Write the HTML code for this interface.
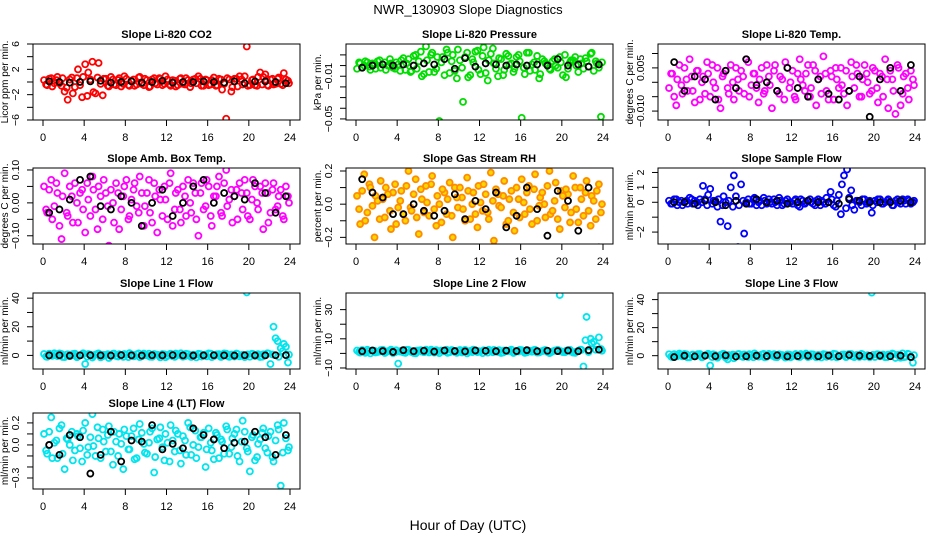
<!DOCTYPE html>
<html><head><meta charset="utf-8"><title>NWR_130903 Slope Diagnostics</title>
<style>
html,body{margin:0;padding:0;background:#fff;}
svg{display:block;font-family:"Liberation Sans",sans-serif;}
</style></head>
<body>
<svg id="chart" width="936" height="540" viewBox="0 0 936 540">
<rect x="0" y="0" width="936" height="540" fill="#fff"/>
<text x="468" y="14" text-anchor="middle" font-size="13">NWR_130903  Slope Diagnostics</text>
<text x="468" y="530" text-anchor="middle" font-size="14">Hour of Day (UTC)</text>
</svg>
<script>
const hoursC = [0.1,0.4,0.8,1.1,1.4,1.8,2.1,2.4,2.8,3.1,3.4,3.8,4.1,4.4,4.8,5.1,5.4,5.8,6.1,6.4,6.8,7.1,7.4,7.8,8.1,8.4,8.8,9.1,9.4,9.8,10.1,10.4,10.8,11.1,11.4,11.8,12.1,12.4,12.8,13.1,13.4,13.8,14.1,14.4,14.8,15.1,15.4,15.8,16.1,16.4,16.8,17.1,17.4,17.8,18.1,18.4,18.8,19.1,19.4,19.8,20.1,20.4,20.8,21.1,21.4,21.8,22.1,22.4,22.8,23.1,23.4,23.8];
const hoursC2 = [0.3,0.6,0.9,1.3,1.6,1.9,2.3,2.6,2.9,3.3,3.6,3.9,4.3,4.6,4.9,5.3,5.6,5.9,6.3,6.6,6.9,7.3,7.6,7.9,8.3,8.6,8.9,9.3,9.6,9.9,10.3,10.6,10.9,11.3,11.6,11.9,12.3,12.6,12.9,13.3,13.6,13.9,14.3,14.6,14.9,15.3,15.6,15.9,16.3,16.6,16.9,17.3,17.6,17.9,18.3,18.6,18.9,19.3,19.6,19.9,20.3,20.6,20.9,21.3,21.6,21.9,22.3,22.6,22.9,23.3,23.6,23.9];
const hoursK = [0.6,1.6,2.6,3.6,4.6,5.6,6.6,7.6,8.6,9.6,10.6,11.6,12.6,13.6,14.6,15.6,16.6,17.6,18.6,19.6,20.6,21.6,22.6,23.6];
const xTicks = [0,4,8,12,16,20,24];

const co2Vals = [0.3,-0.5,0.6,-0.2,0.8,-0.6,-1.5,-2.8,0.7,-0.8,2.0,-2.4,2.8,1.5,3.2,-1.8,3.0,-2.1,0.5,-0.7,0.4,-0.5,0.6,-0.3,0.5,-0.6,0.4,-0.4,0.8,-0.5,0.3,-0.7,0.6,-0.4,0.5,-0.3,0.4,-0.6,0.2,-0.5,0.6,-0.4,0.3,-0.2,0.5,0.9,-0.6,0.4,-0.5,0.3,-0.6,0.5,-1.2,-5.8,0.4,-0.8,0.5,0.9,-0.4,5.6,-0.5,0.4,-0.6,1.5,0.8,-0.5,0.4,-0.4,0.5,-0.3,1.4,0.2];
const co2Vals2 = [-0.4,0.5,-0.7,0.3,-0.2,0.6,-0.9,0.4,-1.8,0.6,-0.5,0.8,-2.2,0.4,-1.6,0.7,-0.3,0.5,-0.6,0.8,-0.4,0.3,-0.7,0.9,-0.5,0.2,-0.6,0.7,-0.3,0.5,-0.8,0.4,-0.2,0.6,-0.5,0.9,-0.4,0.3,-0.7,0.5,-0.3,0.6,-0.8,0.4,-0.2,0.5,-0.6,0.3,-0.4,0.7,-0.5,0.4,-0.3,0.6,-1.5,0.5,-0.7,0.4,0.9,-0.6,0.3,-0.5,0.8,-0.4,1.2,-0.6,0.5,-0.3,0.7,-0.5,0.4,-0.2];
const co2Mean = [0.1,0.0,-0.1,0.0,0.1,0.2,-0.1,0.0,0.1,-0.1,0.0,0.2,-0.1,0.0,0.0,0.1,0.0,-0.1,0.1,-0.2,0.1,0.1,0.0,-0.2];

const presVals = [-0.003,0.002,0.000,0.003,-0.004,0.001,0.004,-0.002,0.003,0.000,0.002,-0.003,0.001,0.005,-0.004,0.006,-0.005,0.010,0.004,-0.010,0.018,-0.006,0.012,-0.003,-0.052,0.008,0.015,-0.007,0.010,-0.012,0.005,-0.034,0.012,-0.009,0.003,0.014,-0.008,0.017,-0.014,0.011,0.002,-0.010,0.006,-0.004,0.009,0.002,-0.003,0.010,-0.049,-0.008,0.012,0.001,-0.004,-0.012,0.006,0.002,-0.003,0.004,0.000,0.008,-0.009,-0.011,0.003,0.005,0.000,0.006,-0.003,0.004,0.011,-0.005,0.002,-0.048];
const presVals2 = [0.003,-0.002,0.004,-0.001,0.002,-0.003,0.005,0.001,-0.004,0.006,-0.002,0.003,-0.005,0.007,0.002,-0.006,0.009,-0.003,0.013,-0.008,0.005,0.010,-0.006,0.008,0.003,-0.009,0.012,0.004,-0.005,0.015,-0.002,0.008,-0.011,0.006,0.013,-0.004,0.009,-0.007,0.005,0.016,-0.003,0.007,-0.009,0.011,0.001,-0.006,0.008,0.004,-0.002,0.012,-0.005,0.003,0.009,-0.008,0.004,0.001,-0.004,0.006,-0.002,0.003,0.010,-0.003,0.005,0.008,-0.006,0.002,0.007,-0.001,0.012,0.004,-0.002,0.003];
const presMean = [-0.002,0.000,0.001,0.000,0.001,0.000,0.002,0.001,0.006,-0.003,0.007,-0.001,0.002,0.001,0.000,0.001,0.000,0.001,0.000,0.006,0.000,0.001,-0.001,0.001];

const tempVals = [-0.002,0.003,-0.008,0.006,-0.004,0.001,0.008,-0.003,0.004,-0.006,0.002,0.007,-0.005,0.000,0.005,-0.009,0.003,-0.002,0.006,-0.006,0.001,0.004,-0.004,0.007,-0.001,0.003,-0.007,0.005,-0.003,0.002,-0.009,0.006,-0.004,0.001,0.007,-0.002,0.004,-0.006,0.008,-0.001,0.003,-0.005,0.006,-0.008,0.002,0.009,-0.003,0.004,-0.006,0.001,0.005,-0.004,-0.008,0.007,-0.002,0.003,-0.005,0.006,0.000,-0.003,0.004,-0.007,0.002,0.008,-0.009,0.001,-0.011,0.005,-0.004,0.003,-0.006,0.001];
const tempVals2 = [0.003,-0.005,0.001,-0.001,0.005,-0.003,0.002,-0.007,0.004,0.000,-0.004,0.003,0.006,-0.002,-0.006,0.002,0.004,-0.004,0.000,0.005,-0.003,0.002,0.008,-0.005,0.003,-0.002,0.001,-0.004,0.006,-0.001,0.004,-0.003,0.002,-0.006,0.005,0.000,-0.005,0.003,0.001,-0.003,0.006,-0.002,0.004,0.001,-0.004,0.003,-0.006,0.002,0.005,-0.002,-0.001,0.004,-0.003,0.002,0.006,-0.005,0.001,0.003,-0.004,0.005,-0.002,0.003,-0.005,0.001,0.004,-0.003,0.006,-0.008,0.002,-0.002,0.004,-0.001];
const tempMean = [0.007,-0.003,0.002,0.001,-0.006,0.004,-0.002,0.008,-0.001,0.000,-0.003,0.005,-0.002,-0.005,0.001,-0.004,-0.006,-0.003,0.002,-0.012,0.001,0.005,-0.003,0.006];

const boxVals = [0.05,-0.03,0.07,-0.01,0.03,-0.11,0.09,-0.04,0.02,0.06,-0.06,0.04,-0.09,0.01,0.08,-0.02,0.05,-0.05,0.03,-0.13,0.00,0.06,-0.08,0.02,0.07,-0.04,0.04,-0.01,0.08,-0.07,0.03,-0.03,0.06,-0.09,0.01,0.05,-0.05,0.09,-0.02,0.04,-0.06,0.02,0.07,-0.03,0.03,-0.10,0.06,-0.01,0.05,-0.07,0.02,0.08,-0.04,0.10,0.01,-0.06,0.04,0.06,-0.02,0.03,-0.05,0.07,0.00,0.05,-0.08,0.03,-0.03,0.06,-0.01,0.04,-0.05,0.02];
const boxVals2 = [-0.02,0.04,-0.05,0.06,-0.07,0.02,-0.03,0.05,-0.06,0.00,0.03,-0.02,0.06,-0.04,0.04,-0.08,0.02,0.07,-0.01,0.04,-0.06,0.03,-0.02,0.05,-0.05,0.01,0.06,-0.03,0.03,-0.01,0.07,-0.06,0.02,0.04,-0.04,0.01,0.06,-0.07,0.03,-0.02,0.05,-0.04,0.00,0.06,-0.05,0.03,-0.02,0.07,-0.04,0.02,0.05,-0.03,0.06,-0.01,0.04,0.02,-0.05,0.03,0.07,-0.04,0.01,0.05,-0.02,0.03,0.06,-0.06,0.04,-0.02,0.02,-0.04,0.05,0.00];
const boxMean = [-0.03,-0.02,0.01,0.07,0.08,-0.01,-0.02,0.02,0.00,-0.07,0.00,0.04,-0.04,0.00,0.05,0.07,0.00,0.03,0.02,0.01,0.06,0.03,-0.03,0.02];

const rhVals = [0.05,-0.12,0.18,-0.05,0.10,-0.20,0.02,0.14,-0.08,0.06,-0.15,0.12,-0.02,0.08,-0.10,0.20,-0.04,0.15,-0.18,0.03,0.11,-0.07,0.17,-0.13,0.00,0.09,-0.06,0.13,-0.20,0.04,0.10,-0.03,0.16,-0.09,0.07,-0.14,0.01,0.12,-0.05,0.19,-0.22,0.06,-0.02,0.14,-0.10,0.08,-0.16,0.03,0.15,-0.06,0.11,-0.12,0.18,-0.01,0.07,-0.08,0.20,-0.04,0.13,-0.15,0.05,0.09,-0.11,0.17,-0.03,0.10,-0.07,0.14,-0.13,0.02,0.08,-0.05];
const rhVals2 = [-0.03,0.08,-0.10,0.12,-0.01,0.05,-0.09,0.03,0.10,-0.04,0.07,-0.12,0.02,-0.06,0.11,-0.02,0.06,-0.08,0.09,-0.05,0.01,0.12,-0.03,0.05,-0.11,0.07,0.03,-0.07,0.10,-0.02,0.04,-0.10,0.08,0.00,-0.06,0.11,-0.04,0.06,-0.09,0.02,0.09,-0.01,0.05,-0.12,0.03,-0.05,0.10,-0.08,0.01,0.07,-0.03,0.09,-0.10,0.04,0.00,0.11,-0.06,0.02,-0.09,0.08,-0.02,0.06,-0.05,0.10,-0.11,0.03,0.07,-0.04,0.05,-0.09,0.12,0.00];
const rhMean = [0.15,0.07,0.04,-0.06,-0.06,0.00,-0.04,-0.07,-0.04,0.06,-0.09,0.02,-0.03,0.07,-0.14,-0.07,0.10,-0.03,-0.19,0.08,0.02,-0.16,0.10,-0.26];

const sampleVals = [0.1,-0.1,0.2,0.0,-0.2,0.1,0.3,-0.1,0.0,0.2,1.1,-0.2,0.9,0.1,-0.3,-1.3,0.4,-1.6,1.0,1.8,-3.0,1.2,-2.1,0.2,-0.1,0.3,0.0,-0.2,0.1,0.2,-0.1,0.0,0.3,-0.2,0.1,0.0,-0.1,0.2,-0.3,0.1,0.0,0.2,-0.1,0.1,-0.2,0.0,0.3,0.7,-0.2,0.1,-0.8,1.8,2.2,0.8,-0.5,0.1,-0.2,0.2,0.0,-0.7,0.1,0.2,-0.1,0.0,0.2,-0.2,0.1,0.0,0.2,-0.1,0.1,0.0];
const sampleVals2 = [-0.1,0.2,-0.2,0.1,0.0,-0.1,0.2,0.1,-0.2,0.0,0.2,0.5,-0.1,0.1,0.2,-0.2,0.0,0.1,-0.3,0.4,-0.2,0.1,0.0,-0.1,0.2,-0.2,0.1,0.3,-0.1,0.0,0.2,-0.2,0.1,-0.1,0.2,0.0,0.1,-0.2,0.2,-0.1,0.1,0.0,-0.2,0.2,0.1,-0.1,0.0,0.2,-0.3,0.5,1.2,-0.4,0.3,-0.2,0.1,0.0,0.2,-0.1,0.1,-0.2,0.0,0.2,-0.1,0.1,0.0,-0.2,0.2,-0.1,0.1,0.2,-0.1,0.1];
const sampleMean = [0.0,0.0,-0.1,0.1,0.0,-0.2,0.1,-0.1,0.2,0.0,0.1,-0.1,0.0,0.1,0.0,0.0,-0.1,0.2,0.1,0.0,0.0,0.0,0.1,0.0];

const line1Vals = [1.0,-1.0,0.5,1.5,-0.5,1.0,-1.2,0.8,0.0,1.2,-0.8,0.5,-6.0,1.0,-1.5,0.6,1.4,-0.6,0.2,-1.8,1.1,-0.4,0.9,-1.0,0.4,1.6,-0.7,0.8,-1.2,1.3,0.0,-0.9,1.0,0.5,-1.4,0.8,-0.3,1.2,-1.0,0.6,1.5,-0.5,0.9,-1.1,0.3,1.1,-0.8,0.6,1.4,-1.2,0.2,0.9,-0.6,1.2,-1.0,0.5,1.3,-0.7,0.4,44.0,-0.9,1.0,0.3,-1.1,0.8,1.5,-6.0,20.0,10.0,5.0,8.0,-5.0];
const line1Vals2 = [-0.8,1.2,-0.3,0.7,1.4,-1.1,0.5,-0.6,1.0,-1.3,0.2,1.5,-0.9,0.6,-0.2,1.1,-1.4,0.4,0.9,-0.5,1.3,-0.8,0.1,1.0,-1.2,0.7,-0.4,1.4,-0.7,0.3,1.2,-1.0,0.6,-0.1,1.0,-1.3,0.8,-0.6,1.3,0.2,-0.9,1.1,-0.2,0.5,-1.4,0.9,0.3,-0.7,1.2,-0.5,0.8,-1.1,1.4,-0.3,0.6,-0.8,1.0,0.0,-1.2,0.7,1.1,-0.4,0.9,-0.9,0.4,1.3,0.6,12.0,-1.0,3.0,6.0,0.5];
const line1Mean = [0.0,0.1,-0.2,0.0,0.1,0.0,-0.1,0.2,0.0,-0.1,0.1,0.0,0.2,0.0,-0.1,0.0,0.1,0.0,-0.1,0.1,0.0,0.0,0.1,0.2];

const line2Vals = [2.0,0.5,1.5,2.5,0.0,1.8,1.0,2.2,0.3,1.5,2.6,0.8,-7.0,1.8,0.4,2.4,1.0,0.0,2.0,1.2,2.6,0.6,1.6,2.2,0.2,1.4,2.5,0.8,1.9,0.4,2.3,1.1,0.0,1.7,2.6,0.9,1.4,2.1,0.5,1.8,2.4,1.0,0.3,2.0,1.5,2.6,0.7,1.3,2.2,0.4,1.9,1.1,2.5,0.6,1.6,2.3,0.2,1.4,2.0,40.0,0.9,1.7,2.4,0.5,1.2,2.6,-9.0,25.0,10.0,8.0,5.0,3.0];
const line2Vals2 = [1.0,2.3,0.4,1.7,2.0,0.6,1.3,2.5,0.9,1.6,0.2,2.1,1.2,0.7,2.4,1.5,0.3,1.9,2.2,0.8,1.4,2.6,0.5,1.1,2.0,1.6,0.4,2.3,1.0,1.8,0.6,2.4,1.3,0.9,2.1,1.5,0.2,1.9,2.5,0.8,1.2,2.2,0.6,1.6,2.0,0.3,1.4,2.4,1.1,0.7,1.8,2.3,0.5,1.3,2.1,1.0,0.6,1.9,2.5,1.5,0.8,2.2,1.2,0.4,1.7,2.4,9.0,1.0,7.0,2.5,11.0,1.8];
const line2Mean = [1.5,2.0,1.6,1.0,2.2,1.5,1.8,1.2,2.0,1.6,1.4,2.0,1.7,1.5,1.9,1.6,2.2,1.5,1.8,1.6,2.0,1.5,2.2,2.6];

const line3Vals = [1.0,-1.0,0.5,1.5,-0.5,1.0,-1.2,0.8,0.0,1.2,-0.8,0.5,-7.0,1.0,-1.5,0.6,1.4,-2.6,0.2,-1.8,1.1,-0.4,0.9,-1.0,0.4,1.6,-0.7,0.8,-1.2,1.3,0.0,-0.9,1.0,0.5,-1.4,0.8,-0.3,1.2,-1.0,0.6,1.5,-0.5,0.9,-1.1,0.3,1.1,-0.8,0.6,1.4,-1.2,0.2,0.9,-0.6,1.2,-1.0,0.5,1.3,-0.7,0.4,45.0,-0.9,1.0,0.3,-1.1,0.8,1.5,-1.6,0.7,1.6,-0.8,1.0,-5.0];
const line3Vals2 = [-0.7,1.1,-0.4,0.8,1.3,-1.2,0.4,-0.5,1.1,-1.2,0.3,1.4,-1.0,0.5,-0.3,1.2,-1.3,0.5,0.8,-0.6,1.2,-0.9,0.2,1.1,-1.1,0.6,-0.5,1.3,-0.8,0.4,1.1,-1.1,0.5,-0.2,0.9,-1.2,0.7,-0.7,1.2,0.3,-1.0,1.0,-0.3,0.6,-1.3,0.8,0.2,-0.8,1.1,-0.6,0.7,-1.0,1.3,-0.4,0.5,-0.9,0.9,0.1,-1.1,0.6,1.0,-0.5,0.8,-1.0,0.3,1.2,0.5,-1.5,-1.1,1.4,-0.7,0.4];
const line3Mean = [-1.0,0.0,-0.5,0.0,-0.3,0.2,-0.6,-0.4,0.0,-0.2,0.3,-0.5,-0.2,0.0,-0.4,0.1,-0.3,0.5,0.0,-0.2,0.0,-0.4,0.0,-1.0];

const line4Vals = [0.10,-0.08,0.25,0.02,-0.12,0.18,-0.22,0.05,0.12,-0.05,0.08,-0.15,0.20,-0.02,0.28,-0.10,0.06,0.14,-0.06,0.17,-0.18,0.03,0.10,-0.22,0.08,-0.04,0.15,-0.12,0.19,0.01,-0.08,0.12,-0.25,0.05,0.16,-0.14,0.02,0.18,-0.06,0.10,-0.17,0.04,0.20,-0.09,0.13,-0.02,0.07,-0.20,0.15,-0.05,0.11,-0.12,0.03,0.17,-0.08,0.06,0.14,-0.15,0.22,-0.03,-0.24,0.09,-0.11,0.05,0.15,-0.07,0.12,-0.15,0.18,-0.37,0.20,-0.05];
const line4Vals2 = [-0.05,0.12,-0.12,0.04,0.15,-0.08,0.06,0.00,-0.14,0.10,-0.03,0.13,-0.09,0.07,-0.01,0.16,-0.12,0.03,0.09,-0.06,0.12,-0.10,0.01,0.14,-0.04,0.08,-0.13,0.05,0.11,-0.07,0.02,0.15,-0.11,0.06,-0.02,0.10,-0.15,0.04,0.13,-0.05,0.08,-0.09,0.16,0.00,-0.12,0.07,0.11,-0.04,0.02,-0.13,0.09,0.05,-0.08,0.14,-0.02,0.10,-0.10,0.03,0.12,-0.06,0.07,-0.14,0.01,0.11,-0.03,0.08,-0.11,0.04,0.14,-0.07,0.06,-0.02];
const line4Mean = [0.0,-0.09,0.09,0.07,-0.26,-0.09,0.12,-0.15,0.04,0.03,0.18,-0.04,0.01,-0.03,0.15,0.09,0.05,-0.03,0.02,0.03,0.12,0.07,-0.09,0.09];

const co2Ticks = [-6,-4,-2,0,2,4,6], co2Labels = [-6,-2,2,6];
const presTicks = [0.01,0,-0.01,-0.02,-0.03,-0.04,-0.05], presLabels = [-0.01,-0.05];
const tempTicks = [0.01,0.005,0,-0.005,-0.01], tempLabels = [0.005,-0.01];
const boxTicks = [0.1,0.05,0,-0.05,-0.1], boxLabels = [0.1,0,-0.1];
const rhTicks = [0.2,0.1,0,-0.1,-0.2], rhLabels = [0.2,0,-0.2];
const sampleTicks = [2,1,0,-1,-2], sampleLabels = [2,1,0,-2];
const line1Ticks = [40,30,20,10,0], line1Labels = [40,20,0];
const line2Ticks = [30,20,10,0,-10], line2Labels = [30,10,-10];
const line3Ticks = [40,30,20,10,0], line3Labels = [40,20,0];
const line4Ticks = [0.2,0.1,0,-0.1,-0.2,-0.3], line4Labels = [0.2,0,-0.3];

const NS = 'http://www.w3.org/2000/svg';
const svg = document.getElementById('chart');
function mk(tag, attrs, parent){const e=document.createElementNS(NS,tag);for(const k in attrs)e.setAttribute(k,attrs[k]);(parent||svg).appendChild(e);return e;}

const colLeft=[33,346,658], rowTop=[44,168,293,413], W=267, H=76;
function fmt(v, dec){return (v<0?'\u2212':'')+Math.abs(v).toFixed(dec);}

function panel(o){
  const L=colLeft[o.col], T=rowTop[o.row];
  const g=mk('g',{});
  
  
  const xs=h=>L+10+h/24*(W-20);
  const ys=v=>T+H-(v-o.ymin)/(o.ymax-o.ymin)*H;
  const t=mk('text',{x:L+W/2,y:T-6,'text-anchor':'middle','font-size':11,'font-weight':'bold'},g);
  t.textContent=o.title;
  
  
  const xa=mk('g',{},g);
  
  
  mk('line',{x1:xs(0),x2:xs(24),y1:T+H,y2:T+H,stroke:'#000'},xa);
  xTicks.forEach(v=>{
    mk('line',{x1:xs(v),x2:xs(v),y1:T+H,y2:T+H+6,stroke:'#000'},xa);
    const tx=mk('text',{x:xs(v),y:T+H+21,'text-anchor':'middle','font-size':11},xa);tx.textContent=v;
    
    
  });
  const ya=mk('g',{},g);
  
  
  o.ticks.forEach(v=>{
    mk('line',{x1:L-6,x2:L,y1:ys(v),y2:ys(v),stroke:'#000'},ya);
  });
  o.labels.forEach(v=>{
    const tx=mk('text',{x:L-14,y:ys(v),'text-anchor':'middle','font-size':10.5,transform:`rotate(-90 ${L-14} ${ys(v)})`},ya);
    tx.textContent=fmt(v,o.dec);
    
    
  });
  const yt=mk('text',{x:L-25,y:T+H/2,'text-anchor':'middle','font-size':10,transform:`rotate(-90 ${L-25} ${T+H/2})`},g);
  yt.textContent=o.ylab;
  
  
  const clip=mk('clipPath',{id:'c'+o.name},g);
  mk('rect',{x:L,y:T,width:W,height:H},clip);
  const pg=mk('g',{'clip-path':`url(#c${o.name})`},g);
  o.vals2.forEach((v,i)=>{
    const c=mk('circle',{cx:xs(hoursC2[i]),cy:ys(v),r:3,fill:o.fill||'none',stroke:o.color,'stroke-width':1.8},pg);
    
    
  });
  o.vals.forEach((v,i)=>{
    const c=mk('circle',{cx:xs(hoursC[i]),cy:ys(v),r:3,fill:o.fill||'none',stroke:o.color,'stroke-width':1.8},pg);
    
    
  });
  o.mean.forEach((v,i)=>{
    const c=mk('circle',{cx:xs(hoursK[i]),cy:ys(v),r:3,fill:'none',stroke:'#000','stroke-width':1.8},pg);
    
    
  });
  const box=mk('rect',{x:L,y:T,width:W,height:H,fill:'none',stroke:'#000'},g);
  
  
}

panel({name:'co2',title:'Slope Li-820 CO2',row:0,col:0,ymin:-6,ymax:6,ticks:co2Ticks,labels:co2Labels,dec:0,ylab:'Licor ppm per min.',vals:co2Vals,vals2:co2Vals2,mean:co2Mean,color:'#ff0000'});
panel({name:'pressure',title:'Slope Li-820 Pressure',row:0,col:1,ymin:-0.051,ymax:0.0202,ticks:presTicks,labels:presLabels,dec:2,ylab:'kPa per min.',vals:presVals,vals2:presVals2,mean:presMean,color:'#00dd00'});
panel({name:'temp',title:'Slope Li-820 Temp.',row:0,col:2,ymin:-0.0131,ymax:0.0133,ticks:tempTicks,labels:tempLabels,dec:3,ylab:'degrees C per min.',vals:tempVals,vals2:tempVals2,mean:tempMean,color:'#ff00ff'});
panel({name:'amb-box',title:'Slope Amb. Box Temp.',row:1,col:0,ymin:-0.125,ymax:0.106,ticks:boxTicks,labels:boxLabels,dec:2,ylab:'degrees C per min.',vals:boxVals,vals2:boxVals2,mean:boxMean,color:'#ff00ff'});
panel({name:'gas-rh',title:'Slope Gas Stream RH',row:1,col:1,ymin:-0.24,ymax:0.218,ticks:rhTicks,labels:rhLabels,dec:1,ylab:'percent per min.',vals:rhVals,vals2:rhVals2,mean:rhMean,color:'#ff8c00',fill:'#ffd700'});
panel({name:'sample-flow',title:'Slope Sample Flow',row:1,col:2,ymin:-2.8,ymax:2.3,ticks:sampleTicks,labels:sampleLabels,dec:0,ylab:'ml/min per min.',vals:sampleVals,vals2:sampleVals2,mean:sampleMean,color:'#0000ff'});
panel({name:'line1',title:'Slope Line 1 Flow',row:2,col:0,ymin:-9.5,ymax:43.6,ticks:line1Ticks,labels:line1Labels,dec:0,ylab:'ml/min per min.',vals:line1Vals,vals2:line1Vals2,mean:line1Mean,color:'#00e5ee'});
panel({name:'line2',title:'Slope Line 2 Flow',row:2,col:1,ymin:-10.7,ymax:41.4,ticks:line2Ticks,labels:line2Labels,dec:0,ylab:'ml/min per min.',vals:line2Vals,vals2:line2Vals2,mean:line2Mean,color:'#00e5ee'});
panel({name:'line3',title:'Slope Line 3 Flow',row:2,col:2,ymin:-9.5,ymax:44.7,ticks:line3Ticks,labels:line3Labels,dec:0,ylab:'ml/min per min.',vals:line3Vals,vals2:line3Vals2,mean:line3Mean,color:'#00e5ee'});
panel({name:'line4',title:'Slope Line 4 (LT) Flow',row:3,col:0,ymin:-0.4,ymax:0.29,ticks:line4Ticks,labels:line4Labels,dec:1,ylab:'ml/min per min.',vals:line4Vals,vals2:line4Vals2,mean:line4Mean,color:'#00e5ee'});
</script>
</body></html>
